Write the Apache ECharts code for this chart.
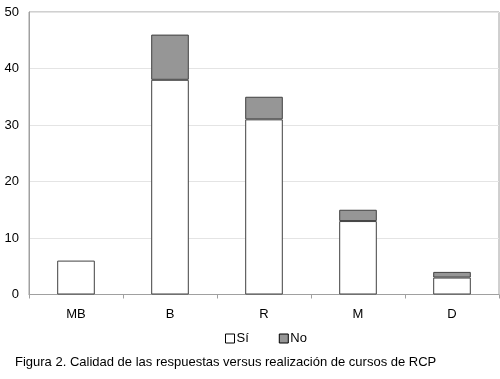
<!DOCTYPE html>
<html><head><meta charset="utf-8">
<script src="https://cdn.jsdelivr.net/npm/echarts@6/dist/echarts.min.js"></script>
<style>html,body{margin:0;padding:0;background:#fff}#c{width:500px;height:379px}</style>
</head><body><div id="c"></div>
<script>
const categories = ['MB', 'B', 'R', 'M', 'D'];
const siValues = [6, 38, 31, 13, 3];
const noValues = [0, 8, 4, 2, 1];
const seriesNames = ['Sí', 'No'];
const caption = 'Figura 2. Calidad de las respuestas versus realización de cursos de RCP';

const chart = echarts.init(document.getElementById('c'), null, {renderer: 'canvas'});
const font = 'Liberation Sans, Arial, sans-serif';
const hideZero = arr => arr.map(v => (v === 0 ? '-' : v));
chart.setOption({
  animation: false,
  backgroundColor: '#fff',
  title: {
    text: caption, left: 10, top: 351,
    textStyle: {fontFamily: font, fontSize: 13, fontWeight: 'normal', color: '#000'}
  },
  legend: {
    data: seriesNames, top: 327, left: 220, itemWidth: 9, itemHeight: 9, itemGap: 30,
    icon: 'rect',
    itemStyle: {borderWidth: 1, borderColor: '#000'},
    textStyle: {fontFamily: font, fontSize: 13, color: '#000', padding: [0, 0, 0, -3]}
  },
  grid: {left: 29, right: 1, top: 12, bottom: 84.5, show: true, borderColor: '#a0a0a0', borderWidth: 1},
  xAxis: {
    type: 'category', data: categories,
    axisLine: {lineStyle: {color: '#a0a0a0'}},
    axisTick: {show: true, length: 4, lineStyle: {color: '#a0a0a0'}},
    axisLabel: {fontFamily: font, fontSize: 13, color: '#000', margin: 13}
  },
  yAxis: {
    type: 'value', min: 0, max: 50, interval: 10,
    axisLine: {show: true, lineStyle: {color: '#a0a0a0'}},
    axisTick: {show: false},
    axisLabel: {fontFamily: font, fontSize: 13, color: '#000', margin: 10},
    splitLine: {lineStyle: {color: '#e4e4e4'}}
  },
  series: [
    {name: seriesNames[0], type: 'bar', stack: 't', data: hideZero(siValues), barWidth: '40%',
     itemStyle: {color: '#ffffff', borderColor: '#404040', borderWidth: 1}},
    {name: seriesNames[1], type: 'bar', stack: 't', data: hideZero(noValues), barWidth: '40%',
     itemStyle: {color: '#969696', borderColor: '#404040', borderWidth: 1}}
  ]
});
</script></body></html>
